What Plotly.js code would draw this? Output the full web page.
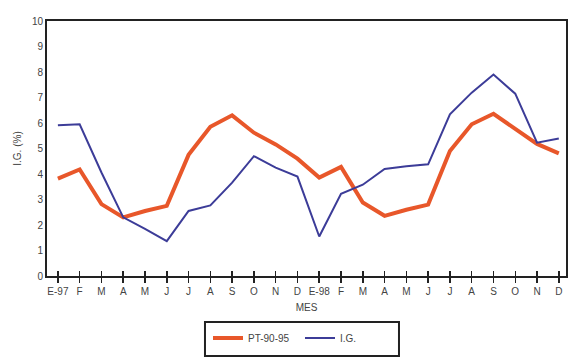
<!DOCTYPE html>
<html>
<head>
<meta charset="utf-8">
<script src="https://cdn.plot.ly/plotly-3.0.1.min.js"></script>
<style>
  html, body { margin: 0; padding: 0; background: #ffffff; }
  #chart { width: 569px; height: 362px; }
</style>
</head>
<body>
<div id="chart"></div>
<script>
// Monthly tick labels, January 1997 through December 1998
const months = ['E-97','F','M','A','M','J','J','A','S','O','N','D',
                'E-98','F','M','A','M','J','J','A','S','O','N','D'];

// PT-90-95 series (%)
const pt = [3.82, 4.18, 2.82, 2.30, 2.55, 2.75, 4.75, 5.85, 6.30, 5.62, 5.16, 4.60,
            3.86, 4.28, 2.88, 2.36, 2.60, 2.80, 4.90, 5.95, 6.36, 5.75, 5.18, 4.81];

// I.G. series (%)
const ig = [5.91, 5.95, 4.06, 2.30, 1.85, 1.37, 2.55, 2.77, 3.66, 4.70, 4.25, 3.90,
            1.55, 3.22, 3.58, 4.20, 4.30, 4.38, 6.34, 7.19, 7.90, 7.15, 5.23, 5.39];

const idx = months.map((_, i) => i);

const traces = [
  {
    x: idx, y: pt, name: 'PT-90-95', type: 'scatter', mode: 'lines',
    line: { color: '#E8572A', width: 4 }, xaxis: 'x', yaxis: 'y'
  },
  {
    x: idx, y: ig, name: 'I.G.', type: 'scatter', mode: 'lines',
    line: { color: '#3C3C98', width: 2 }, xaxis: 'x2', yaxis: 'y'
  }
];

const xRange = [-0.5, 23.33];
const tickFont = { family: 'Liberation Sans, Arial, sans-serif', size: 10, color: '#444' };

const layout = {
  width: 569, height: 362,
  margin: { l: 47, r: 3, t: 21, b: 86 },
  paper_bgcolor: '#ffffff', plot_bgcolor: '#ffffff',
  font: tickFont,
  showlegend: true,
  xaxis: {
    range: xRange, tickmode: 'array', tickvals: idx, ticktext: months,
    ticks: 'outside', ticklen: 5, tickwidth: 1.5, tickcolor: '#222',
    showline: true, linecolor: '#222', linewidth: 2, mirror: true,
    showgrid: false, zeroline: false, tickfont: tickFont,
    title: { text: 'MES', font: tickFont, standoff: 8 }
  },
  xaxis2: {
    range: xRange, overlaying: 'x', anchor: 'y', side: 'bottom',
    tickmode: 'array', tickvals: idx, ticks: 'inside', ticklen: 5,
    tickwidth: 1.5, tickcolor: '#222', showticklabels: false,
    showline: false, showgrid: false, zeroline: false
  },
  yaxis: {
    range: [0, 10], dtick: 1, ticks: '',
    showline: true, linecolor: '#222', linewidth: 2, mirror: true,
    showgrid: false, zeroline: false, tickfont: tickFont,
    title: { text: 'I.G. (%)', font: tickFont, standoff: 8 }
  },
  legend: {
    orientation: 'h', x: 0.3102, xanchor: 'left', y: -0.243, yanchor: 'middle',
    entrywidth: 47, entrywidthmode: 'pixels',
    bgcolor: 'rgba(0,0,0,0)', borderwidth: 0, font: tickFont
  },
  shapes: [{
    type: 'rect', xref: 'paper', yref: 'paper',
    x0: 0.3044, x1: 0.6782, y0: -0.314, y1: -0.180,
    line: { color: '#222', width: 2 }, fillcolor: 'rgba(0,0,0,0)'
  }]
};

Plotly.newPlot('chart', traces, layout, { displayModeBar: false, staticPlot: true });
</script>
</body>
</html>
